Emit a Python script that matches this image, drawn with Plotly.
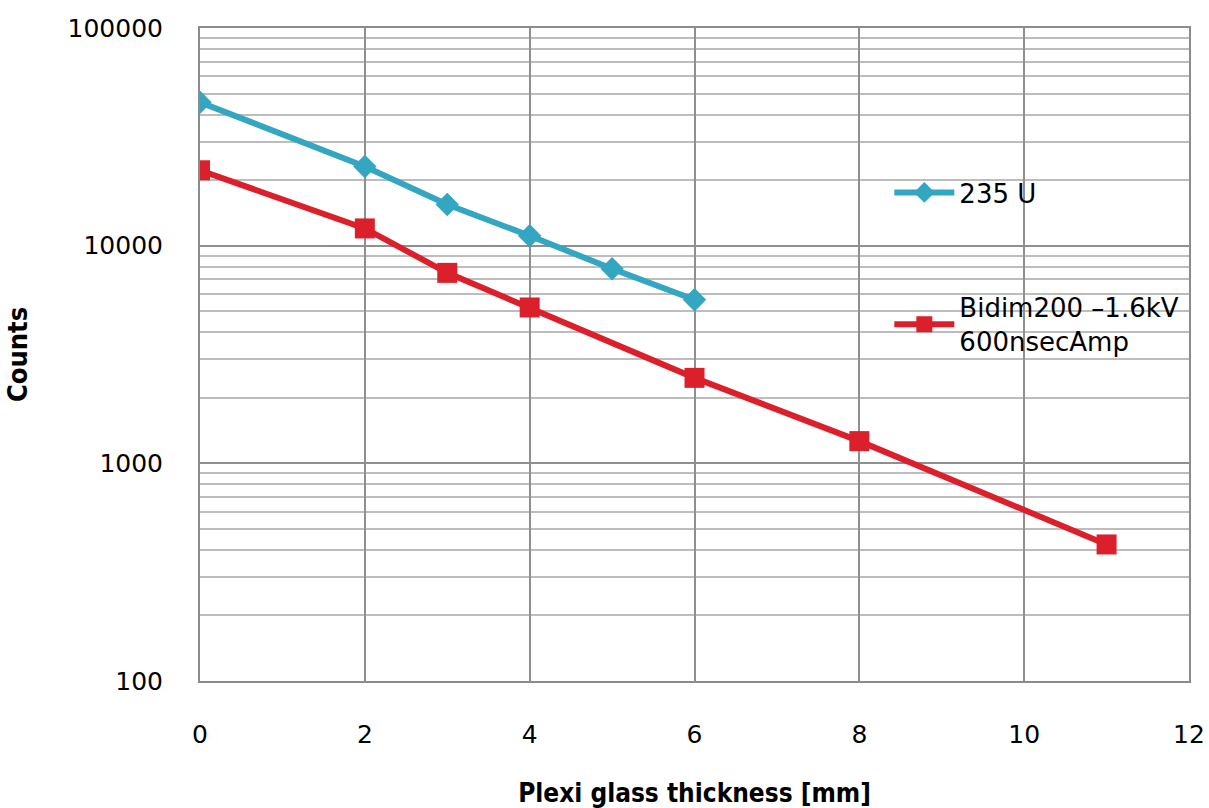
import plotly.graph_objects as go

# Data
x_u235 = [0, 2, 3, 4, 5, 6]
y_u235 = [45600, 23100, 15450, 11100, 7830, 5640]

x_bidim = [0, 2, 3, 4, 6, 8, 11]
y_bidim = [22200, 12000, 7500, 5200, 2470, 1265, 424]

name_u235 = "235 U"
name_bidim = "Bidim200 \u20131.6kV<br>600nsecAmp"

x_ticks = [0, 2, 4, 6, 8, 10, 12]
y_ticks = [100, 1000, 10000, 100000]
y_ticklabels = ["100", "1000", "10000", "100000"]

minor_vals = [m * d for d in (100, 1000, 10000) for m in range(2, 10)]

BLUE = "#33A6C2"
RED = "#DB1F2B"
FONT = "DejaVu Sans"
TITLE_FONT = "Liberation Sans Narrow, DejaVu Sans Condensed"

fig = go.Figure()
fig.add_trace(go.Scatter(
    x=x_u235, y=y_u235, name=name_u235, mode="lines+markers",
    line=dict(color=BLUE, width=6),
    marker=dict(symbol="diamond", size=18, color=BLUE),
    legendgroup="a",
))
fig.add_trace(go.Scatter(
    x=x_bidim, y=y_bidim, name=name_bidim, mode="lines+markers",
    line=dict(color=RED, width=6),
    marker=dict(symbol="square", size=20, color=RED),
    legendgroup="b",
))

fig.update_layout(
    width=1209, height=808,
    margin=dict(l=200, r=20, t=28, b=127),
    paper_bgcolor="white", plot_bgcolor="white",
    font=dict(family=FONT, size=25, color="black"),
    showlegend=True,
    legend=dict(
        x=0.697, y=0.784, xanchor="left", yanchor="top",
        bgcolor="rgba(0,0,0,0)", tracegroupgap=78,
        font=dict(family=FONT, size=26, color="black"),
        itemwidth=60,
    ),
    xaxis=dict(
        range=[0, 12], tickvals=x_ticks, ticks="", ticklen=0,
        showgrid=True, gridcolor="#8f8f8f", gridwidth=2,
        showline=True, linecolor="#8c8c8c", linewidth=2, mirror=True,
        zeroline=False, ticklabelstandoff=30, automargin=False,
        ticklabeloverflow="allow",
        tickfont=dict(family=FONT, size=25),
        title=dict(text="<b>Plexi glass thickness [mm]</b>",
                   font=dict(family=TITLE_FONT, size=26),
                   standoff=38),
    ),
    yaxis=dict(
        type="log", range=[2, 5], tickvals=y_ticks, ticktext=y_ticklabels,
        ticks="", showgrid=True, gridcolor="#8f8f8f", gridwidth=2,
        showline=True, linecolor="#8c8c8c", linewidth=2, mirror=True,
        zeroline=False, ticklabelstandoff=30, automargin=False,
        ticklabeloverflow="allow",
        tickfont=dict(family=FONT, size=25),
        minor=dict(tickvals=minor_vals, showgrid=True, gridcolor="#bdbdbd", gridwidth=1.5, ticks=""),
        title=dict(text="<b>Counts</b>",
                   font=dict(family=TITLE_FONT, size=27),
                   standoff=32),
    ),
)

fig.write_html("out.html", config={"displayModeBar": False},
               post_script="document.body.style.margin='0';")
